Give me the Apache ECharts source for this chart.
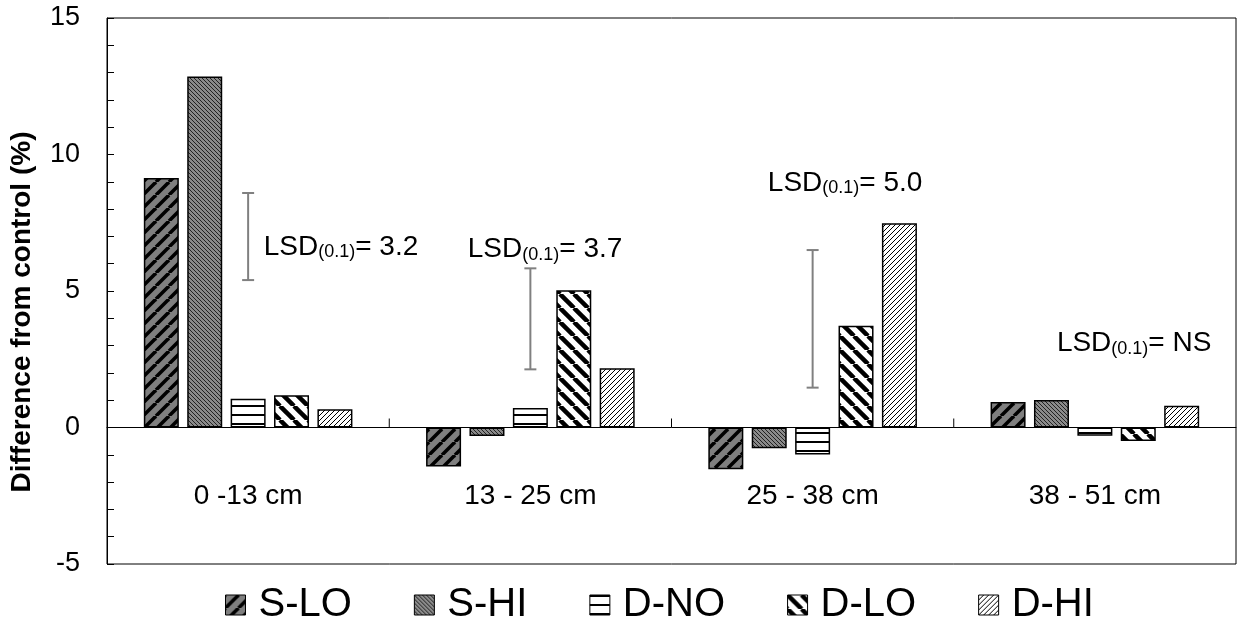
<!DOCTYPE html>
<html>
<head>
<meta charset="utf-8">
<title>Difference from control</title>
<script src="https://cdn.jsdelivr.net/npm/echarts@6/dist/echarts.min.js"></script>
<style>
  html, body { margin: 0; padding: 0; background: #fff; }
  #main { width: 1242px; height: 626px; }
</style>
</head>
<body>
<div id="main"></div>
<script>
  // depth classes on the x axis
  var categories = ['0 -13 cm', '13 - 25 cm', '25 - 38 cm', '38 - 51 cm'];
  var seriesNames = ['S-LO', 'S-HI', 'D-NO', 'D-LO', 'D-HI'];

  // difference from control (%)
  var sLo = [9.14, -1.43, -1.53, 0.93];
  var sHi = [12.86, -0.31, -0.76, 1.01];
  var dNo = [1.05, 0.71, -0.99, -0.30];
  var dLo = [1.18, 5.03, 3.73, -0.49];
  var dHi = [0.67, 2.17, 7.48, 0.80];

  // LSD(0.1) bars (low / high end) for the first three depths
  var lsdLow = [5.40, 2.13, 1.46];
  var lsdHigh = [8.59, 5.83, 6.50];
  var lsdValue = ['3.2', '3.7', '5.0', 'NS'];
  // height (in % units) of each LSD label
  var lsdLabelY = [6.63, 6.55, 8.99, 3.11];

  var yMin = -5, yMax = 15, yStep = 1, yLabelStep = 5;

  var FONT = '"Liberation Sans", Arial, sans-serif';

  // small canvas tiles used as hatch fills
  function hatch(bg, fg, size, width, dir) {
    var c = document.createElement('canvas');
    c.width = c.height = size;
    var g = c.getContext('2d');
    g.fillStyle = bg;
    g.fillRect(0, 0, size, size);
    g.strokeStyle = fg;
    g.fillStyle = fg;
    g.lineWidth = width;
    if (dir === '-') {
      g.fillRect(0, 0, size, width);
    } else {
      for (var k = -1; k <= 1; k++) {
        g.beginPath();
        if (dir === '/') {
          g.moveTo(k * size, size);
          g.lineTo(k * size + size, 0);
        } else {
          g.moveTo(k * size, 0);
          g.lineTo(k * size + size, size);
        }
        g.stroke();
      }
    }
    return { image: c, repeat: 'repeat' };
  }

  var fills = [
    hatch('#7f7f7f', '#000', 13, 3.5, '/'),
    hatch('#8a8a8a', '#222', 4, 1, '\\'),
    hatch('#fff', '#000', 9, 2, '-'),
    hatch('#fff', '#000', 14, 4.5, '\\'),
    hatch('#fff', '#000', 5, 1, '/')
  ];
  var values = [sLo, sHi, dNo, dLo, dHi];

  var myChart = echarts.init(document.getElementById('main'));

  var barSeries = seriesNames.map(function (name, i) {
    return {
      name: name,
      type: 'bar',
      barWidth: 35,
      barGap: '24%',
      data: values[i],
      itemStyle: {
        color: fills[i],
        borderColor: '#000',
        borderWidth: 1.5
      },
      emphasis: { disabled: true }
    };
  });

  var option = {
    animation: false,
    backgroundColor: '#fff',
    textStyle: { fontFamily: FONT },
    grid: {
      left: 107, right: 6, top: 18, bottom: 62,
      containLabel: false,
      outerBoundsMode: 'none',
      show: true,
      borderColor: '#000',
      borderWidth: 1
    },
    legend: {
      data: seriesNames,
      left: 225,
      top: 585,
      padding: 0,
      icon: 'rect',
      itemWidth: 20,
      itemHeight: 20,
      itemGap: 62,
      selectedMode: false,
      itemStyle: { borderColor: '#000', borderWidth: 1 },
      textStyle: {
        fontSize: 40,
        lineHeight: 40,
        color: '#000',
        fontFamily: FONT,
        padding: [0, 0, 0, 8]
      }
    },
    xAxis: {
      type: 'category',
      data: categories,
      axisLine: { onZero: true, lineStyle: { color: '#000', width: 1 } },
      axisTick: { show: false },
      // labels sit inside the plot, between 0 and -5
      axisLabel: { margin: -82, fontSize: 28, color: '#000', fontFamily: FONT },
      splitLine: { show: false }
    },
    yAxis: {
      type: 'value',
      min: yMin,
      max: yMax,
      interval: yStep,
      axisLine: { show: true, lineStyle: { color: '#000', width: 1 } },
      axisTick: { show: true, inside: true, length: 7, lineStyle: { color: '#000' } },
      axisLabel: {
        margin: 27,
        fontSize: 27,
        color: '#000',
        fontFamily: FONT,
        formatter: function (v) { return v % yLabelStep === 0 ? String(v) : ''; }
      },
      splitLine: { show: false }
    },
    graphic: [{
      type: 'text',
      x: 22,
      y: 312,
      rotation: Math.PI / 2,
      style: {
        text: 'Difference from control (%)',
        align: 'center',
        verticalAlign: 'middle',
        font: 'bold 28px ' + FONT,
        fill: '#000'
      }
    }],
    series: barSeries.concat([
      {
        // category boundary ticks standing up from the zero line
        type: 'custom',
        silent: true,
        z: 4,
        data: categories.slice(1).map(function (c, i) { return [i + 1, 0]; }),
        renderItem: function (params, api) {
          var p = api.coord([api.value(0), api.value(1)]);
          var half = api.size([1, 0])[0] / 2;
          return {
            type: 'line',
            shape: { x1: p[0] - half, y1: p[1], x2: p[0] - half, y2: p[1] - 9 },
            style: { stroke: '#000', lineWidth: 1 }
          };
        }
      },
      {
        // LSD error bars
        type: 'custom',
        silent: true,
        z: 5,
        data: lsdLow.map(function (v, i) { return [i, v, lsdHigh[i]]; }),
        renderItem: function (params, api) {
          var lo = api.coord([api.value(0), api.value(1)]);
          var hi = api.coord([api.value(0), api.value(2)]);
          var cap = 6;
          var st = { stroke: '#808080', lineWidth: 2 };
          return {
            type: 'group',
            children: [
              { type: 'line', shape: { x1: lo[0], y1: lo[1], x2: hi[0], y2: hi[1] }, style: st },
              { type: 'line', shape: { x1: lo[0] - cap, y1: lo[1], x2: lo[0] + cap, y2: lo[1] }, style: st },
              { type: 'line', shape: { x1: hi[0] - cap, y1: hi[1], x2: hi[0] + cap, y2: hi[1] }, style: st }
            ]
          };
        }
      },
      {
        // LSD labels
        type: 'custom',
        silent: true,
        z: 6,
        data: lsdLabelY.map(function (v, i) { return [i, v]; }),
        renderItem: function (params, api) {
          var dx = [15.6, -62.6, -44.8, -38][params.dataIndex];
          var p = api.coord([api.value(0), api.value(1)]);
          return {
            type: 'text',
            x: p[0] + dx,
            y: p[1],
            style: {
              text: '{m|LSD}{s|(0.1)}{m|= ' + lsdValue[params.dataIndex] + '}',
              align: 'left',
              verticalAlign: 'middle',
              fill: '#000',
              rich: {
                m: { fontSize: 28, lineHeight: 30, fontFamily: FONT, verticalAlign: 'bottom' },
                s: { fontSize: 18, lineHeight: 12, fontFamily: FONT, verticalAlign: 'bottom' }
              }
            }
          };
        }
      }
    ])
  };

  myChart.setOption(option);
</script>
</body>
</html>
